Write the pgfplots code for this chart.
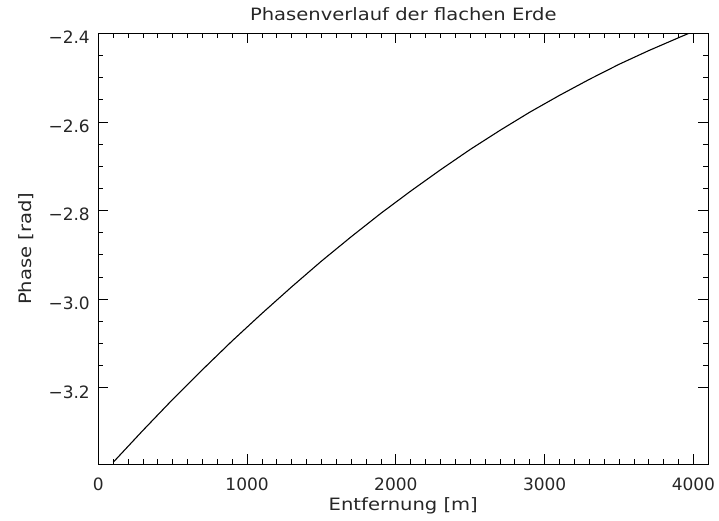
\documentclass[border=0pt]{standalone}
\usepackage{pgfplots}
\pgfplotsset{compat=1.18}
\usepackage{fontspec}
\setmainfont{DejaVu Sans}
\newfontfamily\wide[FakeStretch=1.15]{DejaVu Sans}
\begin{document}
\begin{tikzpicture}
\path[use as bounding box] (0,0) rectangle (719pt,520pt);
\begin{axis}[
  at={(98.3pt,55.7pt)}, anchor=south west,
  scale only axis, width=610pt, height=431pt,
  xmin=0, xmax=4100, ymin=-3.3725, ymax=-2.4,
  xtick={0,1000,2000,3000,4000},
  xticklabels={0,1000,2000,3000,4000},
  minor x tick num=9,
  ytick={-3.2,-3.0,-2.8,-2.6,-2.4},
  yticklabels={−3.2,−3.0,−2.8,−2.6,−2.4},
  minor y tick num=3,
  tick align=inside,
  major tick length=10pt, minor tick length=5pt,
  axis line style={black, line width=0.9pt},
  every tick/.style={black, line width=0.8pt},
  tick label style={font=\fontsize{17}{20}\selectfont, inner sep=0pt, text=black!85},
  xticklabel style={anchor=north, yshift=-13.7pt},
  yticklabel style={anchor=east, xshift=-8.3pt, yshift=-4pt},
  title={Phasenverlauf der flachen Erde},
  title style={font=\wide\fontsize{17}{20}\selectfont, text=black!85, inner sep=0pt, at={(rel axis cs:0.5,1)}, anchor=base, yshift=6.6pt},
  xlabel={Entfernung [m]},
  xlabel style={font=\wide\fontsize{17}{20}\selectfont, text=black!85, inner sep=0pt, at={(rel axis cs:0.5,0)}, anchor=base, yshift=-45.7pt},
  ylabel={Phase [rad]},
  ylabel style={font=\wide\fontsize{17}{20}\selectfont, text=black!85, inner sep=0pt, at={(rel axis cs:0,0.5)}, anchor=base, yshift=66.6pt},
]
\addplot[black, line width=1.1pt] coordinates {
(100,-3.368) (300,-3.296) (500,-3.226) (700,-3.159) (900,-3.094)
(1100,-3.032) (1300,-2.972) (1500,-2.914) (1700,-2.859) (1900,-2.806)
(2100,-2.756) (2300,-2.708) (2500,-2.662) (2700,-2.619) (2900,-2.578)
(3100,-2.540) (3300,-2.504) (3500,-2.470) (3700,-2.439) (3900,-2.410)
(3970,-2.400)
};
\end{axis}
\end{tikzpicture}
\end{document}
